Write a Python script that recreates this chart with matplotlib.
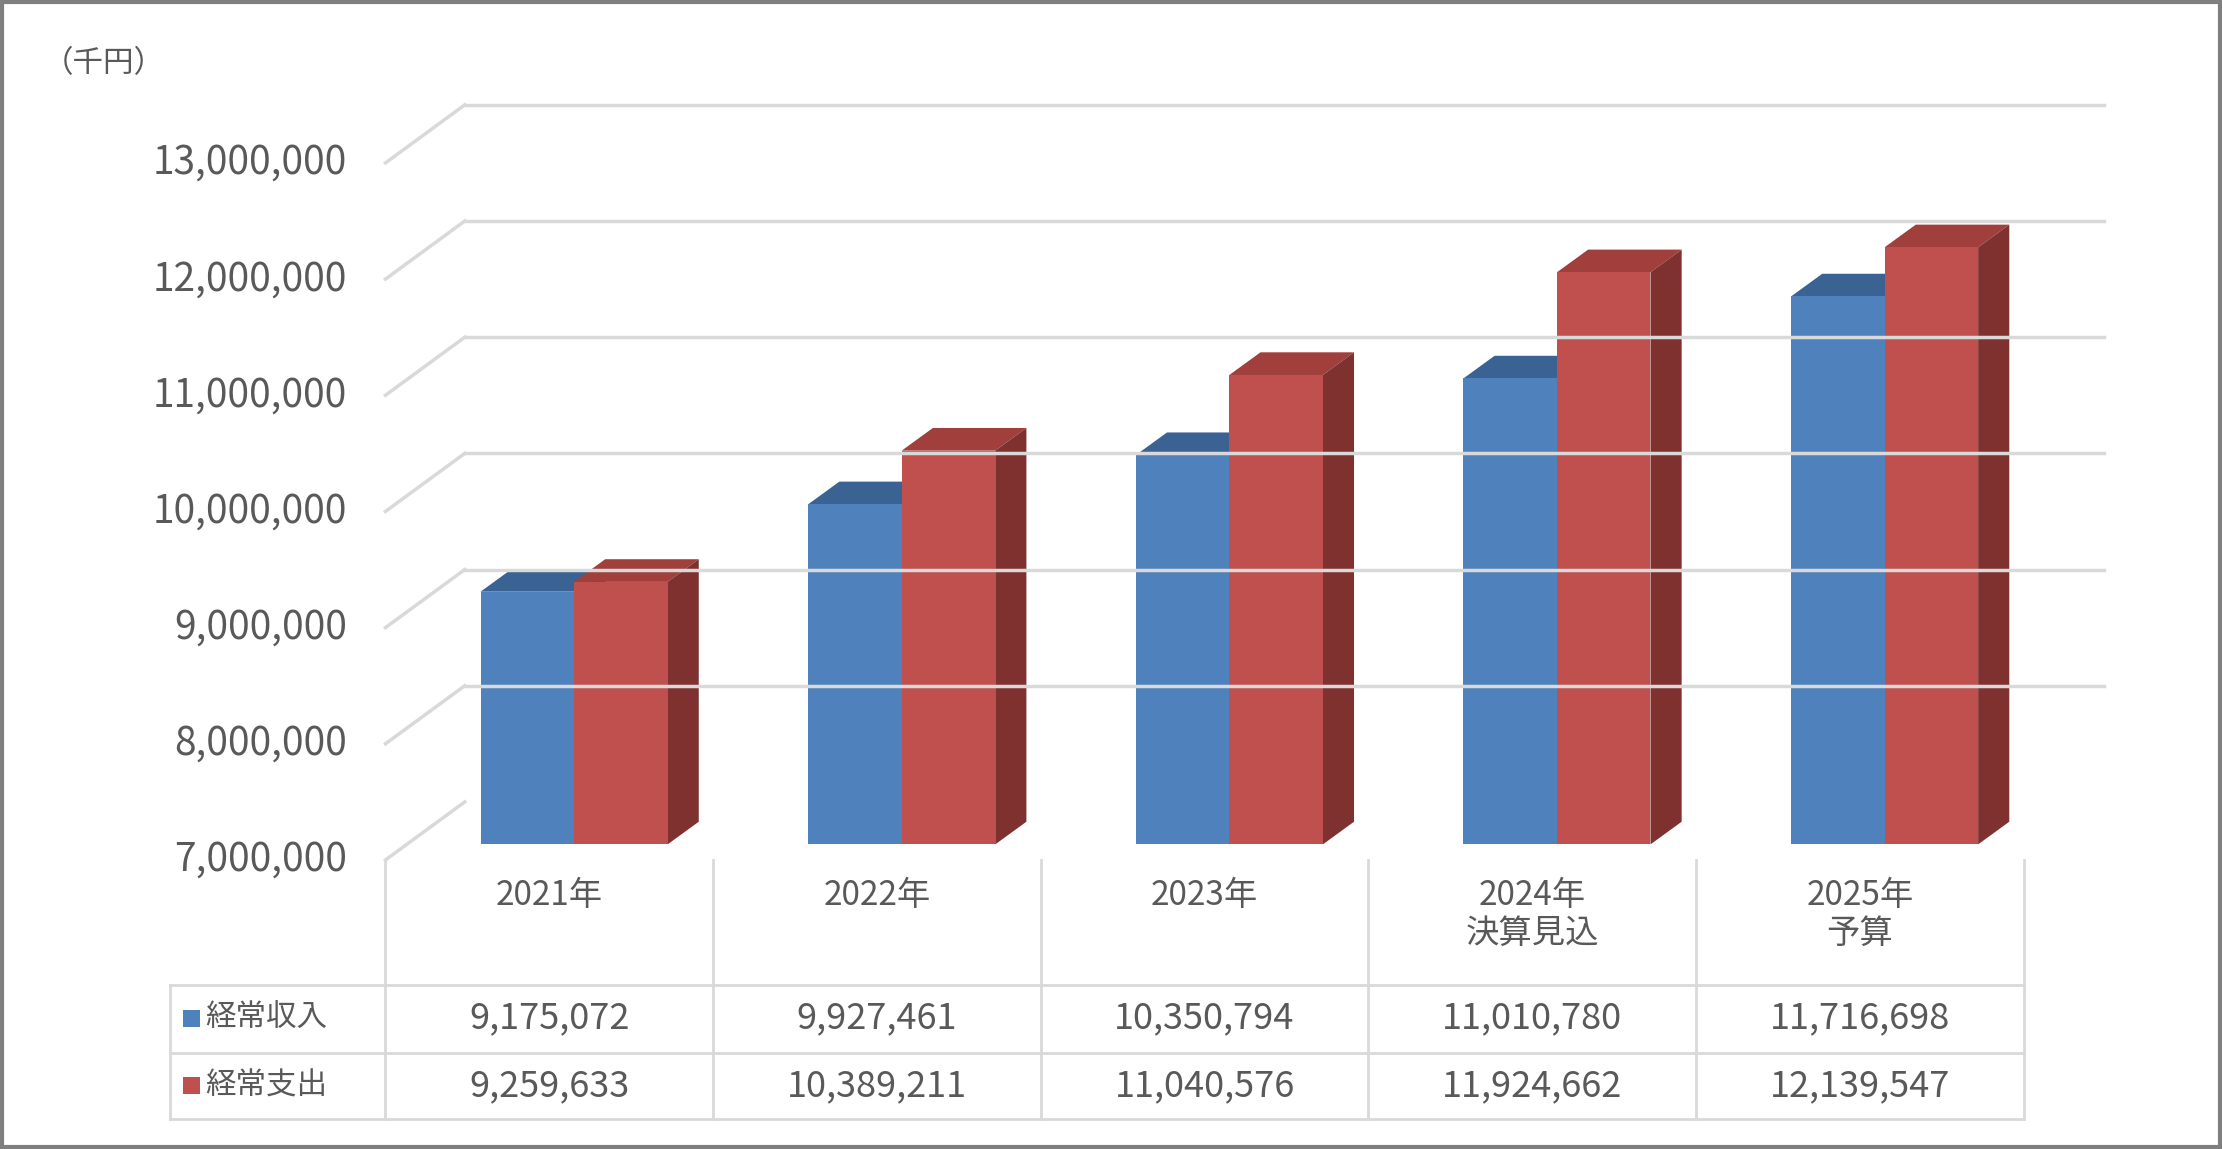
import matplotlib.pyplot as plt
from matplotlib.patches import Polygon, Rectangle

plt.rcParams['font.family'] = ['Noto Sans CJK JP', 'DejaVu Sans']

categories = ['2021年', '2022年', '2023年', '2024年\n決算見込', '2025年\n予算']
income = [9175072, 9927461, 10350794, 11010780, 11716698]
expense = [9259633, 10389211, 11040576, 11924662, 12139547]
series_names = ['経常収入', '経常支出']
y_ticks = [7000000, 8000000, 9000000, 10000000, 11000000, 12000000, 13000000]

TXT = '#595959'
GRID = '#D9D9D9'
face = ['#4F81BD', '#C0504D']
top = ['#3A6394', '#A03F3C']
side = ['#2F4F78', '#7F3130']

# canvas in reference pixel units
W, H = 1568, 811
fig = plt.figure(figsize=(22.22, 11.49), dpi=100)
ax = fig.add_axes([0, 0, 1, 1])
ax.set_xlim(0, W)
ax.set_ylim(H, 0)
ax.axis('off')

x0, cw = 272, 231.2          # front left edge, category width
dx, dy = 56, -41             # wall depth
ppm = 82.0                   # pixels per million
floor = 607

def y_front(v):
    return floor - (v - 7e6) / 1e6 * ppm

# grid walls
for v in y_ticks:
    yf = y_front(v)
    ax.plot([x0, x0 + dx], [yf, yf + dy], color=GRID, lw=2.5)
    if v > 7e6:
        ax.plot([x0 + dx, 1485], [yf + dy, yf + dy], color=GRID, lw=2.5)
    ax.text(245, yf, f'{v:,}', ha='right', va='center', fontsize=28, color=TXT)

ax.text(30, 45, '（千円）', ha='left', va='center', fontsize=22, color=TXT)

# bars
bw, bdx, bdy = 66, 22, -16
base = 596
for i in range(len(categories)):
    c = x0 + cw * (i + 0.5)
    for k, vals in enumerate([income, expense]):
        left = c - 48.5 + k * bw
        ytop = base - (vals[i] - 7e6) / 1e6 * ppm
        ax.add_patch(Polygon([[left, ytop], [left + bdx, ytop + bdy],
                              [left + bw + bdx, ytop + bdy], [left + bw, ytop]],
                             closed=True, fc=top[k], ec='none'))
        ax.add_patch(Polygon([[left + bw, ytop], [left + bw + bdx, ytop + bdy],
                              [left + bw + bdx, base + bdy], [left + bw, base]],
                             closed=True, fc=side[k], ec='none'))
        ax.add_patch(Rectangle((left, ytop), bw, base - ytop, fc=face[k], ec='none'))

# data table
rows = [695, 743, 790]
xs = [x0 + cw * j for j in range(len(categories) + 1)]
for xv in xs:
    ax.plot([xv, xv], [floor, rows[-1]], color=GRID, lw=2)
ax.plot([120, 120], [rows[0], rows[-1]], color=GRID, lw=2)
for yv in rows:
    ax.plot([120, xs[-1]], [yv, yv], color=GRID, lw=2)

for i, cat in enumerate(categories):
    c = x0 + cw * (i + 0.5)
    ax.text(c, 620, cat, ha='center', va='top', fontsize=24, color=TXT,
            linespacing=1.1)
    for k, vals in enumerate([income, expense]):
        ax.text(c, (rows[k] + rows[k + 1]) / 2, f'{vals[i]:,}', ha='center',
                va='center', fontsize=26, color=TXT)

for k, name in enumerate(series_names):
    yc = (rows[k] + rows[k + 1]) / 2
    ax.add_patch(Rectangle((129, yc - 6), 12, 12, fc=face[k], ec='none'))
    ax.text(145, yc, name, ha='left', va='center', fontsize=22, color=TXT)

# outer border
ax.add_patch(Rectangle((1.5, 1.5), W - 3, H - 3, fill=False, ec='#7F7F7F', lw=3))

fig.savefig('out.png', dpi=100)
